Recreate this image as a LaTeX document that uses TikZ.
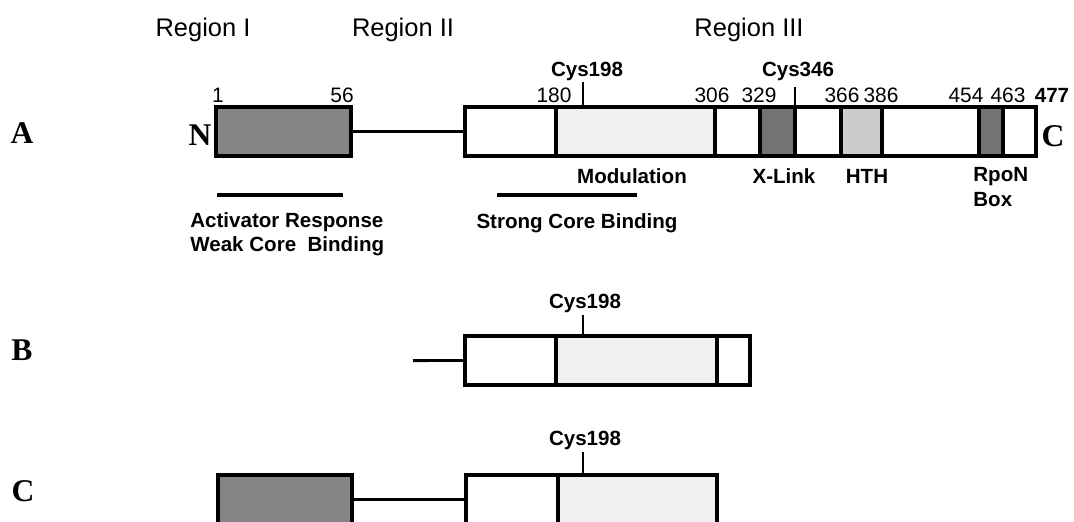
\documentclass[tikz,border=0pt]{standalone}
\usepackage{fontspec}
\setmainfont{Liberation Serif}
\setsansfont{Liberation Sans}
\usetikzlibrary{positioning}

\tikzset{
    seg/.style={draw, rectangle, line width=2.2pt, inner sep=0pt, outer sep=0pt,
        minimum height=0.98cm, minimum width=#1*0.02cm},
    nbox/.style={fill=black!48},
    dark/.style={fill=black!55},
    mid/.style={fill=black!20},
    light/.style={fill=black!6},
    lbl/.style={inner sep=0pt, anchor=base, font=\sffamily\fontsize{11.9}{14}\selectfont},
    blbl/.style={inner sep=0pt, font=\sffamily\bfseries\fontsize{11.7}{14}\selectfont},
    rowlbl/.style={inner sep=0pt, font=\bfseries\fontsize{18}{20}\selectfont},
    region/.style={inner sep=0pt, font=\sffamily\fontsize{14.5}{17}\selectfont},
    linker/.style={line width=1.7pt},
    tick/.style={line width=0.9pt},
    bar/.style={line width=2pt}
}

\begin{document}
\begin{tikzpicture}[x=0.02cm, y=-0.02cm]
    \clip (0,0) rectangle (1074,521);
    % region headings
    \path node[region] (r1) at (203,30) {Region I}
        node[region] (r2) at (403,30) {Region II}
        node[region] (r3) at (749,30) {Region III};

    % A: full length
    \node[rowlbl] (la) at (22,133) {A};
    \node[seg=135, nbox, anchor=north west] (na) at (216,107) {};
    \node[seg=91, anchor=north west] (a1) at (465,107) {};
    \node[seg=159, light, right=0pt of a1] (amod) {};
    \node[seg=45, right=0pt of amod] (a3) {};
    \node[seg=35, dark, right=0pt of a3] (axl) {};
    \node[seg=46, right=0pt of axl] (a5) {};
    \node[seg=41, mid, right=0pt of a5] (ahth) {};
    \node[seg=97, right=0pt of ahth] (a7) {};
    \node[seg=24, dark, right=0pt of a7] (arpon) {};
    \node[seg=33, right=0pt of arpon] (a9) {};
    \draw[linker] (na.east) -- (a1.west);
    \path node[rowlbl] (nend) at (200,135) {N}
        node[rowlbl] (cend) at (1053,136) {C};

    \path node[lbl] (p1) at (218,102.5) {1}
        node[lbl] (p56) at (342,102.5) {56}
        node[lbl] (p180) at (554,102) {180}
        node[lbl] (p306) at (712,102) {306}
        node[lbl] (p329) at (759,102) {329}
        node[lbl] (p366) at (842,102) {366}
        node[lbl] (p386) at (881,102) {386}
        node[lbl] (p454) at (966,102) {454}
        node[lbl] (p463) at (1008,102) {463}
        node[lbl, font=\sffamily\bfseries\fontsize{11.7}{14}\selectfont] (p477) at (1052,102) {477};

    \node[blbl] (cysa) at (587,71) {Cys198};
    \coordinate (ta) at (583,82);
    \draw[tick] (ta) -- (ta |- amod.north);
    \node[blbl] (cysb) at (798,71) {Cys346};
    \coordinate (tb) at (795,87);
    \draw[tick] (tb) -- (tb |- axl.north);

    \path node[blbl] (mod) at (632,176) {Modulation}
        node[blbl] (xl) at (784,176) {X-Link}
        node[blbl] (hth) at (867,176) {HTH}
        node[blbl, anchor=west] (rpon) at (973,177) {RpoN}
        node[blbl, anchor=west] (rbox) at (973,200) {Box};

    \coordinate (u1) at (217,195);
    \coordinate (u2) at (343,195);
    \draw[bar] (u1) -- (u2);
    \coordinate (u3) at (497,195);
    \coordinate (u4) at (637,195);
    \draw[bar] (u3) -- (u4);
    \path node[blbl, anchor=west] (act) at (190,222) {Activator Response}
        node[blbl, anchor=west] (weak) at (190,246) {Weak Core~ Binding}
        node[blbl] (strong) at (577,223) {Strong Core Binding};

    % B: truncated
    \node[rowlbl] (lb) at (22,350) {B};
    \node[seg=91, anchor=north west] (b1) at (465,336) {};
    \node[seg=161, light, right=0pt of b1] (bmod) {};
    \node[seg=33, right=0pt of bmod] (b3) {};
    \coordinate (bs) at (413,360.5);
    \draw[linker] (bs) -- (b1.west);
    \node[blbl] (cysc) at (585,303) {Cys198};
    \coordinate (tc) at (583,315);
    \draw[tick] (tc) -- (tc |- bmod.north);

    % C: without the C-terminal part
    \node[rowlbl] (lc) at (23,491) {C};
    \node[seg=134, nbox, anchor=north west] (nc) at (218,475) {};
    \node[seg=92, anchor=north west] (c1) at (466,475) {};
    \node[seg=159, light, right=0pt of c1] (cmod) {};
    \draw[linker] (nc.east) -- (c1.west);
    \node[blbl] (cysd) at (585,440) {Cys198};
    \coordinate (td) at (583,452);
    \draw[tick] (td) -- (td |- cmod.north);
\end{tikzpicture}
\end{document}
